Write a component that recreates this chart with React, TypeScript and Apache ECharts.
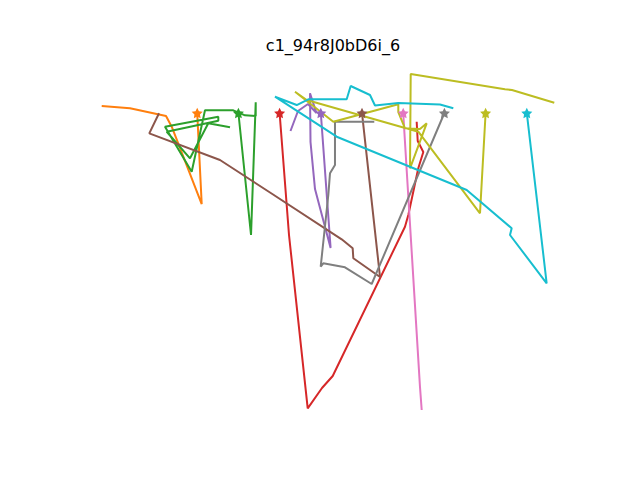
import React, { useEffect, useRef } from "react";
import * as echarts from "echarts";

const TITLE = "c1_94r8J0bD6i_6";

const seriesNames = ["orange", "green", "red", "purple", "brown", "pink", "gray", "olive", "cyan"];
const seriesColors = ["#ff7f0e", "#2ca02c", "#d62728", "#9467bd", "#8c564b", "#e377c2", "#7f7f7f", "#bcbd22", "#17becf"];

const orangePath = [[10, 0], [11.09, -22.09], [3.81, -3.33], [2.43, -0.73], [-6.31, 1.14], [-13.18, 1.7]];
const greenPath = [[20, 0], [23.06, -29.61], [24.2, 2.6], [24.2, -0.73], [21.6, -0.56], [18.76, 0.66], [11.89, 0.66], [8.66, -14.25], [2.18, -3.33], [15.12, -0.9], [15.12, -1.87], [2.6, -4.54], [8.25, -10.99], [12.69, -2.5], [17.96, -3.47]];
const redPath = [[30, 0], [32.28, -29.61], [36.82, -71.67], [40.29, -66.75], [42.89, -63.83], [60.43, -27.6], [61.24, -24.76], [63.66, -13.42], [64.88, -9.47], [63.52, -6.8], [63.27, -2.11]];
const purplePath = [[40, 0], [42.38, -32.77], [38.59, -18.45], [37.5, -7.04], [37.38, 4.78], [38.95, 0], [36.89, 2.18], [34.46, 0.49], [32.64, -4.37]];
const brownPath = [[50, 0], [54.37, -39.8], [47.89, -35.26], [47.74, -32.84], [45.07, -30.65], [27.67, -19.29], [15.53, -11.41], [-1.63, -4.93], [0.73, -0.07]];
const pinkPath = [[60, 0], [60.99, -16.26], [64.07, -66.43], [64.49, -72.08]];
const grayPath = [[70, 0], [52.35, -41.5], [45.87, -37.45], [40.6, -36.48], [39.97, -37.3], [41.82, -19.9], [42.23, -14.64], [43.44, -12.62], [43.44, -2.11], [52.98, -2.11]];
const olivePath = [[80, 0], [78.64, -24.34], [63.66, -4.54], [36.58, 3.16], [33.74, 5.17], [43.03, -2.11], [58.81, 2.11], [58.81, 0.24], [60.43, -3.71], [64.07, -3.88], [65.7, -2.5], [61.65, -13.42], [61.82, 9.47], [84.7, 5.75], [86.4, 5.58], [96.67, 2.5]];
const cyanPath = [[90, 0], [94.82, -41.33], [85.92, -29.61], [86.33, -27.98], [75.41, -18.69], [43.86, -5.75], [28.88, 3.96], [34.15, 1.94], [36.96, 3.33], [46.28, 3.33], [47.25, 6.55], [51.94, 4.37], [53.15, 1.82], [58.81, 2.43], [68.93, 2.06], [72.16, 1.14]];

const paths = [orangePath, greenPath, redPath, purplePath, brownPath, pinkPath, grayPath, olivePath, cyanPath];

const STAR =
  "path://M0,-10 L2.94,-4.05 L9.51,-3.09 L4.76,1.55 L5.88,8.09 L0,5 L-5.88,8.09 L-4.76,1.55 L-9.51,-3.09 L-2.94,-4.05 Z";

export default function App() {
  const ref = useRef<HTMLDivElement>(null);
  useEffect(() => {
    if (!ref.current) return;
    const chart = echarts.init(ref.current, undefined, { renderer: "svg" });
    chart.setOption({
      animation: false,
      backgroundColor: "#ffffff",
      title: {
        text: TITLE,
        left: 328,
        top: 32,
        textAlign: "center",
        textStyle: {
          fontFamily: "DejaVu Sans",
          fontSize: 16,
          fontWeight: "normal",
          color: "#000000",
        },
      },
      grid: { left: 80, right: 64, top: 57.6, bottom: 57.6, containLabel: false },
      xAxis: { type: "value", min: -18.45, max: 101.94, show: false },
      yAxis: { type: "value", min: -75.09, max: 13.45, show: false },
      series: paths.map((p, i) => ({
        name: seriesNames[i],
        type: "line",
        data: p,
        color: seriesColors[i],
        lineStyle: { width: 2, color: seriesColors[i] },
        itemStyle: { color: seriesColors[i] },
        symbol: STAR,
        symbolSize: (_v: any, params: any) => (params.dataIndex === 0 ? [11, 10.5] : 0),
        showSymbol: true,
        clip: false,
        silent: true,
      })),
    });
    return () => chart.dispose();
  }, []);
  return (
    <div
      ref={ref}
      style={{ position: "fixed", left: 0, top: 0, width: 640, height: 480 }}
    />
  );
}
